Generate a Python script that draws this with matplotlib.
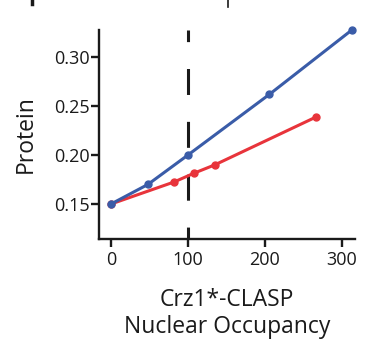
import matplotlib.pyplot as plt
from matplotlib.lines import Line2D

plt.rcParams['font.family'] = ['Open Sans', 'DejaVu Sans']

# nuclear occupancy vs protein output
blue_x = [0, 48, 100, 206, 313]
blue_y = [0.150, 0.170, 0.200, 0.262, 0.3276]
red_x = [0, 82, 108, 135, 267]
red_y = [0.150, 0.1725, 0.1815, 0.190, 0.239]

xticks = [0, 100, 200, 300]
yticks = [0.15, 0.20, 0.25, 0.30]
ytick_labels = ['0.15', '0.20', '0.25', '0.30']

blue = '#3a5ca8'
red = '#e8343b'
ink = '#1a1a1a'

fig = plt.figure(figsize=(3.67, 3.49), dpi=100)
ax = fig.add_axes([0.2698, 0.3152, 0.6972, 0.5988])

# threshold marker at 100
ax.plot([100, 100], [0.1143, 0.3276], color=ink, lw=2.2,
        linestyle=(4.6, (8.5, 8.8)), zorder=1, clip_on=True)
ax.plot(blue_x, blue_y, '-o', color=blue, lw=2.2, ms=5, zorder=3,
        clip_on=False)
ax.plot(red_x, red_y, '-o', color=red, lw=2.2, ms=5, zorder=2)

ax.set_xlim(-15.6, 317)
ax.set_ylim(0.1143, 0.3276)
ax.set_xticks(xticks)
ax.set_yticks(yticks)
ax.set_yticklabels(ytick_labels)

for side in ['top', 'right']:
    ax.spines[side].set_visible(False)
for side in ['left', 'bottom']:
    ax.spines[side].set_linewidth(1.7)
    ax.spines[side].set_color(ink)
ax.tick_params(direction='out', length=5.5, width=1.7, color=ink,
               labelsize=13, labelcolor=ink)
ax.tick_params(axis='y', pad=1)
ax.tick_params(axis='x', pad=3)

ax.set_ylabel('Protein', fontsize=16.5, labelpad=12, color=ink)
ax.set_xlabel('Crz1*-CLASP\nNuclear Occupancy', fontsize=16.5, labelpad=14,
              linespacing=1.15, color=ink)

# pieces of neighbouring panels along the top edge
fig.add_artist(Line2D([31.5 / 367, 31.5 / 367], [1, 1 - 4 / 349],
                      color=ink, lw=2.5))
fig.add_artist(Line2D([227.5 / 367, 227.5 / 367], [1, 1 - 7 / 349],
                      color=ink, lw=1.2))

fig.savefig('out.png', dpi=100)
